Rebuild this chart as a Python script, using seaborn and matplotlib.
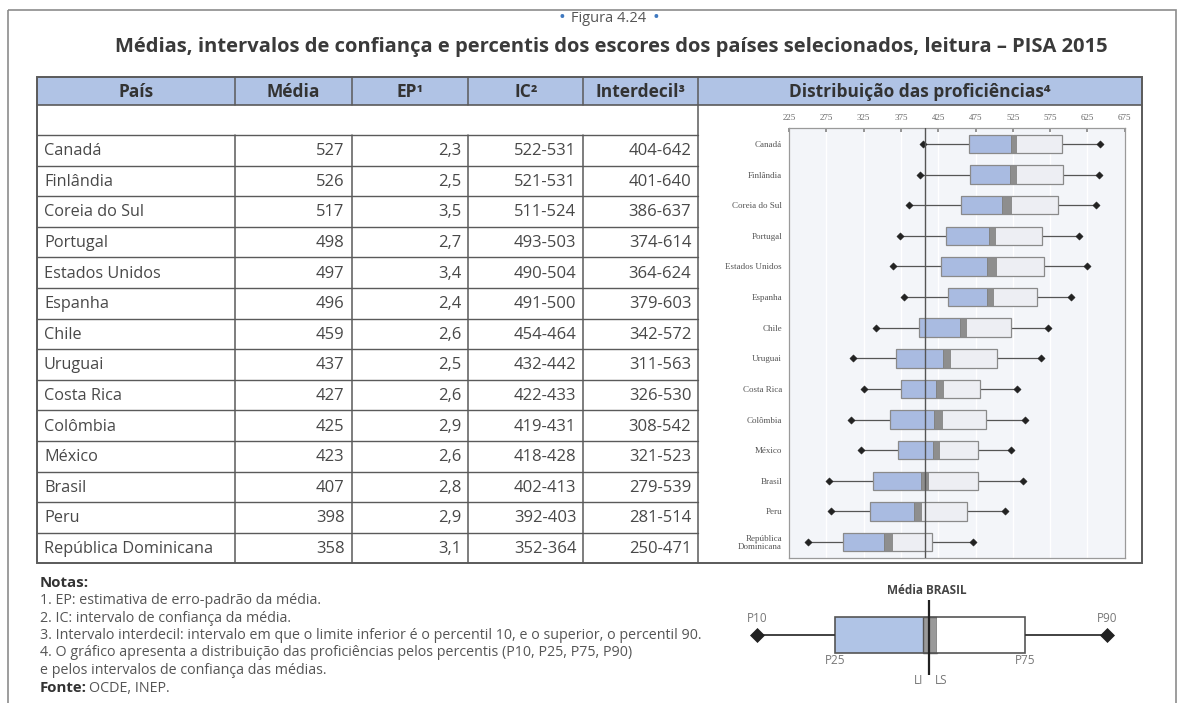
import matplotlib
matplotlib.use("Agg")
import matplotlib.pyplot as plt
from matplotlib.patches import Rectangle
import seaborn as sns
import pandas as pd
import numpy as np

# dados (PISA 2015, leitura)
paises = ["Canadá", "Finlândia", "Coreia do Sul", "Portugal", "Estados Unidos", "Espanha",
          "Chile", "Uruguai", "Costa Rica", "Colômbia", "México", "Brasil", "Peru",
          "República Dominicana"]
rotulos_graf = paises[:-1] + ["República\nDominicana"]
media = [527, 526, 517, 498, 497, 496, 459, 437, 427, 425, 423, 407, 398, 358]
ep = [2.3, 2.5, 3.5, 2.7, 3.4, 2.4, 2.6, 2.5, 2.6, 2.9, 2.6, 2.8, 2.9, 3.1]
ic_li = [522, 521, 511, 493, 490, 491, 454, 432, 422, 419, 418, 402, 392, 352]
ic_ls = [531, 531, 524, 503, 504, 500, 464, 442, 433, 431, 428, 413, 403, 364]
p10 = [404, 401, 386, 374, 364, 379, 342, 311, 326, 308, 321, 279, 281, 250]
p90 = [642, 640, 637, 614, 624, 603, 572, 563, 530, 542, 523, 539, 514, 471]
# P25 / P75
p25 = [466, 468, 455, 436, 429, 438, 399, 368, 375, 361, 371, 337, 334, 297]
p75 = [591, 592, 586, 564, 567, 558, 522, 504, 481, 489, 478, 478, 463, 417]
escala = [225, 275, 325, 375, 425, 475, 525, 575, 625, 675]

cabecalho = ["País", "Média", "EP¹", "IC²", "Interdecil³", "Distribuição das proficiências⁴"]
notas = ["1. EP: estimativa de erro-padrão da média.",
         "2. IC: intervalo de confiança da média.",
         "3. Intervalo interdecil: intervalo em que o limite inferior é o percentil 10, e o superior, o percentil 90.",
         "4. O gráfico apresenta a distribuição das proficiências pelos percentis (P10, P25, P75, P90)",
         "e pelos intervalos de confiança das médias."]

df = pd.DataFrame({"pais": paises, "media": media, "ep": ep, "li": ic_li, "ls": ic_ls,
                   "p10": p10, "p25": p25, "p75": p75, "p90": p90})

sns.set_theme(style="white")
plt.rcParams["font.family"] = ["Open Sans", "DejaVu Sans"]

W, H = 1183, 703
fig = plt.figure(figsize=(W / 100, H / 100), dpi=100)
bg = fig.add_axes([0, 0, 1, 1])
bg.set_xlim(0, W)
bg.set_ylim(H, 0)
bg.axis("off")

azul = "#b0c3e5"
txt = "#484848"
linha = "#5a5a5a"

# moldura externa
bg.add_patch(Rectangle((8, 10), 1168, 700, fill=False, ec="#8c8c8c", lw=1.2))

# titulos
bg.text(609, 18, "Figura 4.24", ha="center", va="center", fontsize=10.5, color="#555555")
for xb in (562, 656):
    bg.text(xb, 18, "•", ha="center", va="center", fontsize=13, color="#3f79c0")
bg.text(611, 47, "Médias, intervalos de confiança e percentis dos escores dos países selecionados, leitura – PISA 2015",
        ha="center", va="center", fontsize=14.5, fontweight="bold", color="#3a3a3a")

# tabela
xc = [37, 235, 351.7, 468.3, 583.3, 698.3, 1141.7]
y_top, y_head, y_blank, y_bot = 77, 105, 135, 563.3
row_h = (y_bot - y_blank) / len(df)

bg.add_patch(Rectangle((xc[0], y_top), xc[-1] - xc[0], y_head - y_top, fc=azul, ec="none"))
for j, h in enumerate(cabecalho):
    bg.text((xc[j] + xc[j + 1]) / 2, (y_top + y_head) / 2 + 1, h, ha="center", va="center",
            fontsize=12.5, fontweight="bold", color="#333333")

bg.add_patch(Rectangle((xc[0], y_top), xc[-1] - xc[0], y_bot - y_top, fill=False, ec=linha, lw=1.4))
bg.plot([xc[0], xc[-1]], [y_head, y_head], color=linha, lw=1.2)
for x in xc[1:-2]:
    bg.plot([x, x], [y_top, y_head], color=linha, lw=1.1)
    bg.plot([x, x], [y_blank, y_bot], color=linha, lw=1.1)
bg.plot([xc[5], xc[5]], [y_top, y_bot], color=linha, lw=1.1)
for k in range(len(df)):
    yk = y_blank + k * row_h
    bg.plot([xc[0], xc[5]], [yk, yk], color=linha, lw=1.0)

for i, r in df.iterrows():
    yc = y_blank + (i + 0.5) * row_h + 1
    bg.text(xc[0] + 7, yc, r["pais"], ha="left", va="center", fontsize=11.7, color=txt)
    vals = [f"{r['media']}", f"{r['ep']:.1f}".replace(".", ","),
            f"{r['li']}-{r['ls']}", f"{r['p10']}-{r['p90']}"]
    for j, v in enumerate(vals):
        bg.text(xc[j + 2] - 7, yc, v, ha="right", va="center", fontsize=12, color=txt)

# notas
bg.text(40, 583, "Notas:", ha="left", va="center", fontsize=10.8, fontweight="bold", color="#333333")
for k, nt in enumerate(notas):
    bg.text(40, 600.5 + k * 17.5, nt, ha="left", va="center", fontsize=10.3, color="#555555")
bg.text(40, 688, "Fonte:", ha="left", va="center", fontsize=10.8, fontweight="bold", color="#333333")
bg.text(89, 688, "OCDE, INEP.", ha="left", va="center", fontsize=10.3, color="#555555")

# grafico de distribuicao
ax = fig.add_axes([789 / W, 1 - 558 / H, (1124.7 - 789) / W, 430 / H])
n = len(df)
y = np.arange(n)
ax.set_facecolor("#f3f5f9")
ax.grid(axis="x", color="white", lw=1)
ax.hlines(y, df["p10"], df["p25"], color="#555555", lw=0.9, zorder=2)
ax.hlines(y, df["p75"], df["p90"], color="#555555", lw=0.9, zorder=2)
ax.barh(y, df["li"] - df["p25"], left=df["p25"], height=0.6, color="#a9bbe1", ec="none", zorder=3)
ax.barh(y, df["ls"] - df["li"], left=df["li"], height=0.6, color="#8e8e8e", ec="#777777", lw=0.6, zorder=3)
ax.barh(y, df["p75"] - df["ls"], left=df["ls"], height=0.6, color="#edeef3", ec="none", zorder=3)
ax.barh(y, df["p75"] - df["p25"], left=df["p25"], height=0.6, fill=False, ec="#8a8a8a", lw=0.9, zorder=4)
pontos = pd.concat([df[["p10"]].rename(columns={"p10": "x"}).assign(y=y),
                    df[["p90"]].rename(columns={"p90": "x"}).assign(y=y)])
sns.scatterplot(data=pontos, x="x", y="y", marker="D", s=14, color="#222222",
                edgecolor="#222222", ax=ax, legend=False, zorder=5)
ax.axvline(df.loc[df["pais"] == "Brasil", "media"].iloc[0], color="#555555", lw=1, zorder=6)
ax.set_xlim(escala[0], escala[-1])
ax.set_ylim(n - 1 + 0.52, -0.52)
ax.xaxis.tick_top()
ax.set_xticks(escala)
ax.set_xticklabels([str(v) for v in escala], fontfamily="Liberation Serif", fontsize=6.5, color="#666666")
ax.set_yticks(y)
ax.set_yticklabels(rotulos_graf, fontfamily="Liberation Serif", fontsize=6.5, color="#555555", linespacing=0.95)
ax.tick_params(axis="x", direction="in", length=3, pad=4, color="#888888")
ax.tick_params(axis="y", length=0, pad=5)
ax.set_xlabel("")
ax.set_ylabel("")
for s in ax.spines.values():
    s.set_color("#9a9a9a")
    s.set_linewidth(0.9)

# legenda esquematica (valores do Brasil)
b = df[df["pais"] == "Brasil"].iloc[0]
lg = fig.add_axes([740 / W, 1 - 690 / H, 385 / W, 110 / H])
lg.set_xlim(266.6, 552.2)
lg.set_ylim(110, 0)
lg.axis("off")
yb = 55
lg.hlines(yb, b["p10"], b["p25"], color="#333333", lw=1.3)
lg.hlines(yb, b["p75"], b["p90"], color="#333333", lw=1.3)
lg.barh(yb, b["li"] - b["p25"], left=b["p25"], height=36, color="#b0c4e6", ec="none")
lg.barh(yb, b["ls"] - b["li"], left=b["li"], height=36, color="#9a9a9a", ec="#555555", lw=1)
lg.barh(yb, b["p75"] - b["ls"], left=b["ls"], height=36, color="white", ec="none")
lg.barh(yb, b["p75"] - b["p25"], left=b["p25"], height=36, fill=False, ec="#555555", lw=1.2)
sns.scatterplot(x=[b["p10"], b["p90"]], y=[yb, yb], marker="D", s=50, color="#222222",
                edgecolor="#222222", ax=lg, legend=False, zorder=5)
lg.vlines(b["media"], 20, 95, color="#222222", lw=1.6, zorder=6)
lg.text(b["media"] - 2, 11, "Média BRASIL", ha="center", va="center", fontsize=8.5, fontweight="bold", color="#444444")
cinza = "#777777"
lg.text(b["p10"], 38, "P10", ha="center", va="center", fontsize=8.5, color=cinza)
lg.text(b["p90"], 38, "P90", ha="center", va="center", fontsize=8.5, color=cinza)
lg.text(b["p25"], 80, "P25", ha="center", va="center", fontsize=8.5, color=cinza)
lg.text(b["p75"], 80, "P75", ha="center", va="center", fontsize=8.5, color=cinza)
lg.text(b["li"] - 3, 101, "LI", ha="center", va="center", fontsize=8.5, color=cinza)
lg.text(b["ls"] + 3, 101, "LS", ha="center", va="center", fontsize=8.5, color=cinza)

fig.savefig("out.png", dpi=100)
